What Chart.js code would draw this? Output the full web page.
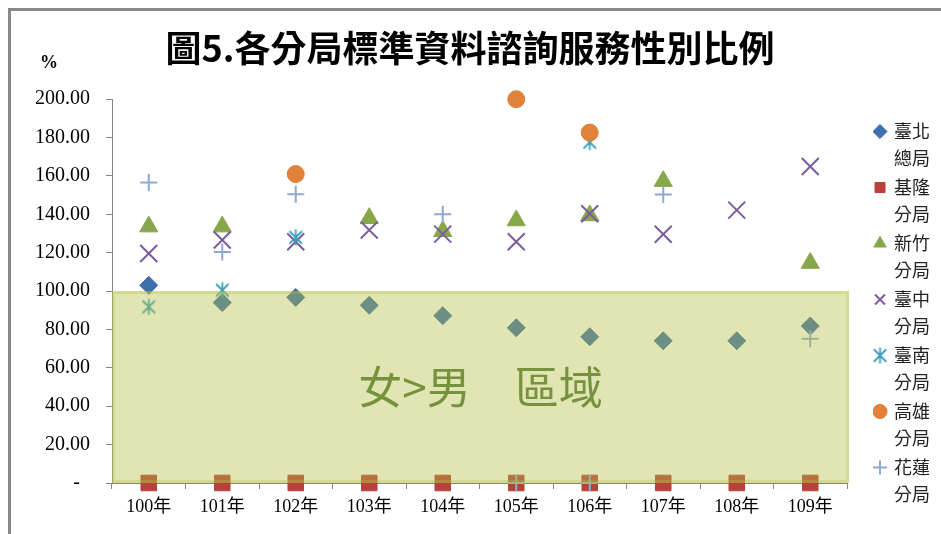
<!DOCTYPE html>
<html>
<head>
<meta charset="utf-8">
<script src="https://cdn.jsdelivr.net/npm/chart.js@4.4.1/dist/chart.umd.min.js"></script>
<style>
  html, body { margin: 0; padding: 0; background: #fff; }
  #wrap { position: relative; width: 941px; height: 534px; overflow: hidden; }
  #frame { position: absolute; left: 8px; top: 8px; right: -10px; bottom: -10px;
           border-left: 3px solid #8a8a8a; border-top: 3px solid #8a8a8a; pointer-events: none; }
</style>
</head>
<body>
<div id="wrap">
  <canvas id="chart" width="941" height="534"></canvas>
  <div id="frame"></div>
</div>
<script>
// ===== data =====
const years = ['100年', '101年', '102年', '103年', '104年', '105年', '106年', '107年', '108年', '109年']
const taipei = [103, 94, 96.7, 92.6, 87.2, 80.9, 76.2, 74.1, 74.1, 81.8]
const keelung = [0, 0, 0, 0, 0, 0, 0, 0, 0, 0]
const hsinchu = [133.6, 133.6, null, 138, 131.2, 136.8, 139.4, 157.3, null, 114.6]
const taichung = [119.6, 126.6, 125.7, 131.8, 129.7, 125.7, 140.3, 129.6, 142.2, 164.9]
const tainan = [91.8, 100.5, 128, null, null, null, 177.6, null, null, null]
const kaohsiung = [null, null, 161, null, null, 200, 182.6, null, null, null]
const hualien = [156.6, 120.4, 150.5, null, 140, 0, 0, 150.4, null, 75.2]

const yTicks = { min: 0, max: 200, step: 20 }
const regionMax = 100
const regionLabel = '女>男　區域'
const titleText = '圖5.各分局標準資料諮詢服務性別比例'

// ===== helpers =====
function asteriskMarker(color, size) {
  const c = document.createElement('canvas')
  c.width = size
  c.height = size
  const g = c.getContext('2d')
  const m = size / 2
  const r = size / 2 - 1.5
  const d = r * 0.78
  g.strokeStyle = color
  g.lineWidth = 1.8
  g.beginPath()
  g.moveTo(m, m - r); g.lineTo(m, m + r)
  g.moveTo(m - d, m - d); g.lineTo(m + d, m + d)
  g.moveTo(m + d, m - d); g.lineTo(m - d, m + d)
  g.stroke()
  return c
}

function series(label, data, color, pointStyle, radius, borderWidth, idx) {
  return {
    label: label,
    data: data,
    showLine: false,
    clip: false,
    order: 10 - idx,
    backgroundColor: color,
    borderColor: color,
    borderWidth: borderWidth,
    pointStyle: pointStyle,
    pointRadius: radius,
    pointHoverRadius: radius,
    pointBackgroundColor: color,
    pointBorderColor: color,
    pointBorderWidth: borderWidth
  }
}

const regionPlugin = {
  id: 'region',
  afterDatasetsDraw(chart) {
    const { ctx, chartArea, scales } = chart
    const top = scales.y.getPixelForValue(regionMax)
    const bottom = scales.y.getPixelForValue(0)
    const left = chartArea.left
    const right = chartArea.right + 2
    ctx.save()
    ctx.fillStyle = 'rgba(180, 190, 65, 0.4)'
    ctx.fillRect(left, top, right - left, bottom - top)
    ctx.strokeStyle = 'rgba(180, 190, 65, 0.3)'
    ctx.lineWidth = 3
    ctx.strokeRect(left + 1.5, top + 1.5, right - left - 3, bottom - top - 3)
    ctx.fillStyle = '#76923c'
    ctx.font = "44px 'Noto Sans CJK TC'"
    ctx.textAlign = 'center'
    ctx.textBaseline = 'middle'
    ctx.fillText(regionLabel, (left + right) / 2, scales.y.getPixelForValue(regionMax / 2))
    ctx.restore()
  },
  afterDraw(chart) {
    const { ctx, chartArea } = chart
    ctx.save()
    ctx.fillStyle = '#000'
    ctx.font = "bold 18px 'Liberation Serif'"
    ctx.textAlign = 'center'
    ctx.textBaseline = 'middle'
    ctx.fillText('%', chartArea.left - 63, chartArea.top - 36)
    ctx.restore()
  }
}

Chart.defaults.font.family = "'Liberation Serif', 'Noto Sans CJK TC', serif"
Chart.defaults.color = '#000'

new Chart(document.getElementById('chart'), {
  type: 'line',
  data: {
    labels: years,
    datasets: [
      series(['臺北', '總局'], taipei, '#3f6fad', 'rectRot', 9, 1, 0),
      series(['基隆', '分局'], keelung, '#b8403d', 'rect', 11, 1, 1),
      series(['新竹', '分局'], hsinchu, '#87a74a', 'triangle', 10.5, 1, 2),
      series(['臺中', '分局'], taichung, '#7b5c9e', 'crossRot', 12, 2, 3),
      series(['臺南', '分局'], tainan, '#3a9fbd', asteriskMarker('#3a9fbd', 19), 9, 1.8, 4),
      series(['高雄', '分局'], kaohsiung, '#e0823a', 'circle', 8.5, 1, 5),
      series(['花蓮', '分局'], hualien, '#8ea9d6', 'cross', 8.5, 2, 6)
    ]
  },
  options: {
    responsive: false,
    animation: false,
    events: [],
    layout: { padding: { left: 0, right: 1, top: 0, bottom: 0 } },
    plugins: {
      title: {
        display: true,
        text: titleText,
        color: '#000',
        font: { family: "'Noto Sans CJK TC'", size: 36, weight: 'bold', lineHeight: 1.2 },
        padding: { top: 27, bottom: 29 }
      },
      legend: {
        position: 'right',
        align: 'start',
        title: { display: true, text: '', font: { size: 10, lineHeight: 1 }, padding: { top: 110.5, bottom: 0 } },
        labels: {
          usePointStyle: true,
          boxWidth: 10,
          boxHeight: 10,
          padding: 2,
          color: '#222',
          font: { family: "'Noto Sans CJK TC'", size: 18, lineHeight: 1.5 },
          sort: (a, b) => a.datasetIndex - b.datasetIndex
        }
      },
      tooltip: { enabled: false }
    },
    scales: {
      x: {
        offset: true,
        grid: { display: true, drawOnChartArea: false, drawTicks: true, tickLength: 6, offset: true, color: '#868686' },
        border: { color: '#868686', width: 1 },
        ticks: { padding: 7, font: { size: 18 }, color: '#000', maxRotation: 0, autoSkip: false },
        afterFit: s => { s.height = 51 }
      },
      y: {
        min: yTicks.min,
        max: yTicks.max,
        grid: { display: true, drawOnChartArea: false, drawTicks: true, tickLength: 6, color: '#868686' },
        border: { color: '#868686', width: 1 },
        ticks: {
          stepSize: yTicks.step,
          padding: 16,
          font: { size: 20 },
          color: '#000',
          callback: v => v === 0 ? '-  ' : v.toFixed(2)
        },
        afterFit: s => { s.width = 112 }
      },
      gap: {
        position: 'right',
        display: true,
        grid: { display: false },
        border: { display: false },
        ticks: { display: false },
        afterFit: s => { s.width = 26 }
      }
    }
  },
  plugins: [regionPlugin]
})
</script>
</body>
</html>
